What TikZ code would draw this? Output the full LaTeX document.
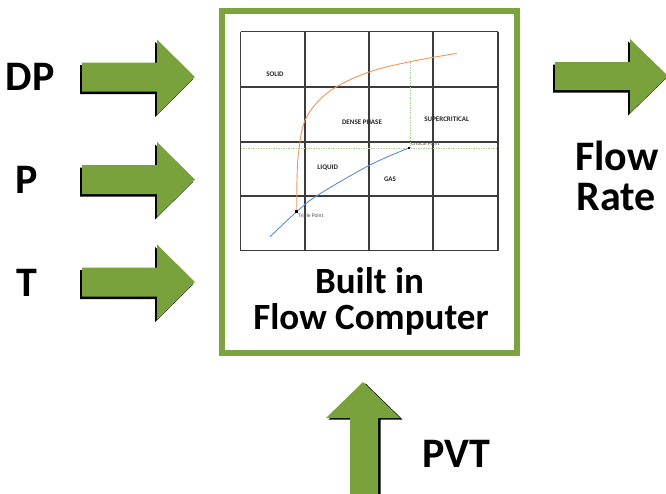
\documentclass[tikz,border=0pt]{standalone}
\usepackage{fontspec}
\setmainfont{Carlito}
\definecolor{arrowgreen}{RGB}{122,162,60}
\definecolor{boxgreen}{RGB}{124,164,62}
\definecolor{gridcol}{RGB}{60,60,60}
\definecolor{dashgreen}{RGB}{175,210,150}
\definecolor{curveorange}{RGB}{240,150,90}
\definecolor{curveblue}{RGB}{95,140,210}
\newcommand\rarr[6]{%
  \fill[black,shift={(-2,2.5)}] (#1,#4-#5) -- (#2,#4-#5) -- (#2,#4-#6) -- (#3,#4) -- (#2,#4+#6) -- (#2,#4+#5) -- (#1,#4+#5) -- cycle;
  \fill[arrowgreen] (#1,#4-#5) -- (#2,#4-#5) -- (#2,#4-#6) -- (#3,#4) -- (#2,#4+#6) -- (#2,#4+#5) -- (#1,#4+#5) -- cycle;
}
\begin{document}
\begin{tikzpicture}[x=1pt,y=-1pt,
  biglabel/.style={font=\fontsize{42}{42}\selectfont\bfseries, inner sep=0pt, anchor=base},
  boxlabel/.style={font=\fontsize{37}{37}\selectfont\bfseries, inner sep=0pt, anchor=base},
  phaselabel/.style={font=\fontsize{7}{7}\selectfont\bfseries, text=black!85, inner sep=0pt},
  pointlabel/.style={font=\fontsize{5.5}{5.5}\selectfont, text=black!70, inner sep=0pt, anchor=west},
  gridline/.style={draw=gridcol, line width=1.1pt},
  guideline/.style={draw=dashgreen, line width=0.8pt, dash pattern=on 1.5pt off 1pt},
  ptmark/.style={fill=black, inner sep=0pt, minimum size=2.6pt, draw=none}]
\useasboundingbox (0,0) rectangle (666,493);
\clip (0,0) rectangle (666,493);
\fill[white] (0,0) rectangle (666,493);
% input arrows
\rarr{82}{157}{195}{77}{14.5}{37.5}
\rarr{82}{157}{195}{179.5}{14.5}{37.5}
\rarr{82}{157}{195}{282}{14.5}{37.5}
% output arrow
\rarr{555}{630}{668}{76}{14}{37}
% up arrow
\fill[black,shift={(2.5,1.5)}] (350,500) -- (350,418) -- (326,418) -- (363,382) -- (400,418) -- (378,418) -- (378,500) -- cycle;
\fill[arrowgreen] (350,500) -- (350,418) -- (326,418) -- (363,382) -- (400,418) -- (378,418) -- (378,500) -- cycle;
% labels
\node[biglabel] (dp) at (30,90) {DP};
\node[biglabel] (p) at (27,193) {P};
\node[biglabel] (t) at (27,296) {T};
\node[biglabel] (flow) at (617,170) {Flow};
\node[biglabel] (rate) at (616,210) {Rate};
\node[biglabel] (pvt) at (456,467) {PVT};
% box
\draw[boxgreen, line width=6pt] (222,10.5) rectangle (517,352.5);
\node[boxlabel] (built) at (369.5,293) {Built in};
\node[boxlabel] (fc) at (371,329) {Flow Computer};
% phase diagram grid
\foreach \gx in {240.7,305,369,433,498} \draw[gridline] (\gx,31.7) -- (\gx,250.7);
\foreach \gy in {31.7,87,142,196,250.7} \draw[gridline] (240.7,\gy) -- (498,\gy);
% guide lines
\draw[guideline] (240.7,148) -- (498,148);
\draw[guideline] (410,62) -- (410,148);
% curves
\draw[curveblue, line width=0.9pt] plot[smooth, tension=0.6] coordinates {(270,236.7) (296.7,211.7) (318,195) (370,165) (409,148)};
\draw[curveorange, line width=0.9pt] plot[smooth, tension=0.6] coordinates {(296.7,211.7) (297,180) (298.5,153) (304,123) (316.7,103) (336.7,86.7) (370,71.7) (410,61.7) (456.7,53.3)};
% points
\node[ptmark] (crit) at (409,148) {};
\node[ptmark] (triple) at (296.7,211.7) {};
\node[pointlabel] (critlab) at (411,143.3) {Critical Point};
\node[pointlabel] (triplab) at (298,216.5) {Triple Point};
% phase labels
\node[phaselabel] (solid) at (275,74) {SOLID};
\node[phaselabel] (dense) at (362,122.7) {DENSE PHASE};
\node[phaselabel] (super) at (446.7,119) {SUPERCRITICAL};
\node[phaselabel] (liquid) at (327.7,167.7) {LIQUID};
\node[phaselabel] (gas) at (390,179) {GAS};
\end{tikzpicture}
\end{document}
